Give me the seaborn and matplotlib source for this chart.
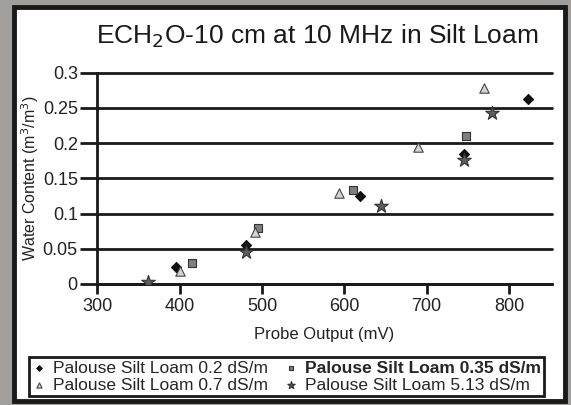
import matplotlib
matplotlib.use("Agg")
import matplotlib.pyplot as plt
import pandas as pd
import seaborn as sns
from matplotlib.patches import Rectangle
from matplotlib.ticker import FormatStrFormatter

# data
ec_02_mv = [395, 481, 619, 746, 823]
ec_02_wc = [0.024, 0.056, 0.125, 0.185, 0.263]
ec_035_mv = [415, 495, 611, 748]
ec_035_wc = [0.030, 0.080, 0.134, 0.210]
ec_07_mv = [401, 492, 594, 689, 770]
ec_07_wc = [0.019, 0.074, 0.129, 0.194, 0.278]
ec_513_mv = [361, 481, 645, 746, 780]
ec_513_wc = [0.003, 0.046, 0.110, 0.176, 0.243]

labels = ["Palouse Silt Loam 0.2 dS/m", "Palouse Silt Loam 0.35 dS/m",
          "Palouse Silt Loam 0.7 dS/m", "Palouse Silt Loam 5.13 dS/m"]
y_ticks = [0, 0.05, 0.1, 0.15, 0.2, 0.25, 0.3]
x_ticks = [300, 400, 500, 600, 700, 800]

sns.set_style("white")
plt.rcParams["font.family"] = ["Liberation Sans", "DejaVu Sans"]

fig = plt.figure(figsize=(5.71, 4.05), dpi=100, facecolor="#a29e9c")
fig.patches.append(Rectangle((14 / 571, 1 - 401 / 405), 551 / 571, 394 / 405,
                             transform=fig.transFigure, facecolor="white",
                             edgecolor="#1a1a1a", linewidth=3.5, zorder=-5))
ax = fig.add_axes([97.3 / 571, 1 - 284 / 405, 454.4 / 571, 211.5 / 405])
ax.set_facecolor("none")

series = [
    (ec_02_mv, ec_02_wc, labels[0], "D", 26, "#111111", "#111111"),
    (ec_035_mv, ec_035_wc, labels[1], "s", 26, "#7f7f7f", "#333333"),
    (ec_07_mv, ec_07_wc, labels[2], "^", 46, "#d4d4d4", "#444444"),
    (ec_513_mv, ec_513_wc, labels[3], "*", 105, "#5e5e5e", "#333333"),
]
handles = {}
for mv, wc, lab, mk, sz, fc, ec in series:
    df = pd.DataFrame({"Probe Output (mV)": mv, "Water Content": wc})
    sns.scatterplot(data=df, x="Probe Output (mV)", y="Water Content", ax=ax,
                    marker=mk, s=sz, color=fc, edgecolor=ec, linewidth=0.8,
                    label=lab, zorder=3, legend=False)
    handles[lab] = ax.collections[-1]

ax.set_xlim(300, 852)
ax.set_ylim(0, 0.3)
ax.set_xticks(x_ticks)
ax.set_yticks(y_ticks)
ax.yaxis.set_major_formatter(FormatStrFormatter("%g"))
ax.tick_params(axis="y", direction="out", length=12, width=2, color="#1a1a1a",
               labelsize=13, pad=2, left=True, labelcolor="#222222")
ax.tick_params(axis="x", direction="out", length=7, width=2, color="#1a1a1a",
               labelsize=13, pad=3, bottom=True, labelcolor="#222222")
ax.grid(axis="y", color="#1a1a1a", linewidth=2)
for gl in ax.get_ygridlines():
    gl.set_clip_on(False)
for side in ["top", "right"]:
    ax.spines[side].set_visible(False)
for side in ["left", "bottom"]:
    ax.spines[side].set_linewidth(2)
    ax.spines[side].set_color("#1a1a1a")
ax.set_axisbelow(True)

ax.set_xlabel("Probe Output (mV)", fontsize=12, labelpad=9, color="#222222")
ax.set_ylabel("Water Content (m$^3$/m$^3$)", fontsize=11.5, labelpad=1, color="#222222")
fig.text(317 / 571, 1 - 36 / 405, "ECH$_2$O-10 cm at 10 MHz in Silt Loam",
         ha="center", va="center", fontsize=19, color="#1a1a1a")

order = [labels[0], labels[2], labels[1], labels[3]]
leg = fig.legend([handles[l] for l in order], order, ncol=2,
                 loc="upper left", bbox_to_anchor=(29 / 571, 1 - 357 / 405),
                 frameon=True, fancybox=False, framealpha=1, edgecolor="#1a1a1a",
                 fontsize=12.5, handlelength=0.8, handletextpad=0.4,
                 columnspacing=0.9, borderpad=0.2, labelspacing=0.1,
                 borderaxespad=0, markerscale=0.55)
leg.get_frame().set_linewidth(2)
leg.get_texts()[2].set_fontweight("bold")

fig.savefig("out.png", dpi=100, facecolor=fig.get_facecolor())
